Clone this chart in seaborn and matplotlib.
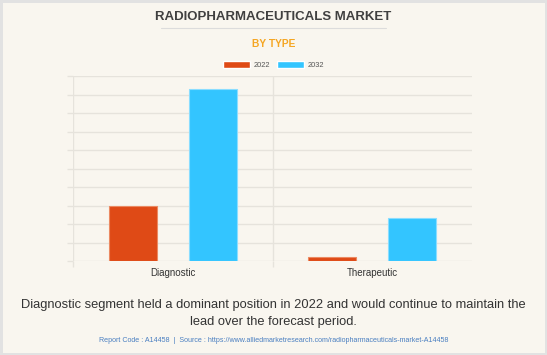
"""Radiopharmaceuticals market by type: grouped bar chart."""

import matplotlib
matplotlib.use("Agg")
import matplotlib.pyplot as plt
from matplotlib.lines import Line2D
import pandas as pd
import seaborn as sns

segments = ["Diagnostic", "Therapeutic"]
years = ["2022", "2032"]
values_2022 = [2.96, 0.24]
values_2032 = [9.32, 2.32]

title = "RADIOPHARMACEUTICALS MARKET"
subtitle = "BY TYPE"
summary = ("Diagnostic segment held a dominant position in 2022 and would continue to maintain the\n"
           "lead over the forecast period.")
source = ("Report Code : A14458  |  Source : "
          "https://www.alliedmarketresearch.com/radiopharmaceuticals-market-A14458")

bg = "#F9F6EF"
grid_color = "#E6E3DC"
palette = ["#DF4A16", "#33C5FF"]
edge_colors = ["#EB8A62", "#8ADDFF"]


def main() -> None:
    df = pd.DataFrame({
        "segment": segments * 2,
        "year": [years[0]] * 2 + [years[1]] * 2,
        "value": values_2022 + values_2032,
    })

    sns.set_theme(style="white")
    plt.rcParams["font.family"] = ["Liberation Sans", "DejaVu Sans"]

    W, H = 547, 355
    fig = plt.figure(figsize=(W / 100, H / 100), dpi=100, facecolor=bg,
                     edgecolor="#E2E2E2", linewidth=2.5)
    ax = fig.add_axes([73 / W, 94 / H, 399 / W, 185 / H])
    ax.set_facecolor(bg)

    sns.barplot(data=df, x="segment", y="value", hue="year", palette=palette,
                saturation=1, width=0.8, gap=0.4, ax=ax, legend=False,
                errorbar=None)

    # lighter outline on each bar
    for i, cont in enumerate(ax.containers):
        for bar in cont:
            bar.set_edgecolor(edge_colors[i])
            bar.set_linewidth(0.8)

    ax.set_xlim(-0.5, 1.5)
    ax.set_ylim(0, 10)
    ax.set_yticks(range(0, 11))
    ax.set_yticklabels([])
    ax.set_xticks([-0.5, 0.5], minor=True)
    ax.grid(True, axis="y", color=grid_color, linewidth=1)
    ax.grid(True, axis="x", which="minor", color=grid_color, linewidth=1)
    ax.set_axisbelow(True)
    ax.tick_params(axis="y", left=True, length=4.3, width=1, color=grid_color)
    ax.tick_params(axis="x", which="minor", bottom=True, length=4.3, width=1,
                   color=grid_color)
    ax.tick_params(axis="x", which="major", bottom=False, labelsize=7,
                   labelcolor="#333333", pad=-1)
    ax.set_xlabel("")
    ax.set_ylabel("")
    for side in ["top", "right", "left", "bottom"]:
        ax.spines[side].set_visible(False)

    # headings
    fig.text(0.5, 1 - 17 / H, title, ha="center", va="center", fontsize=9.5,
             fontweight="bold", color="#404040")
    fig.add_artist(Line2D([161 / W, 386 / W], [1 - 28 / H, 1 - 28 / H],
                          color="#DCDCDC", linewidth=0.8))
    fig.text(0.5, 1 - 44 / H, subtitle, ha="center", va="center", fontsize=7.4,
             fontweight="bold", color="#F5A623")

    # legend
    handles = [plt.Rectangle((0, 0), 1, 1, facecolor=c) for c in palette]
    fig.legend(handles, years, loc="center", bbox_to_anchor=(0.5, 1 - 65 / H),
               ncol=2, frameon=False, fontsize=5.4, handlelength=3.6,
               handleheight=1.0, handletextpad=0.4, columnspacing=1.0,
               labelcolor="#555555")

    # footer
    fig.text(0.5, 1 - 313.5 / H, summary, ha="center", va="center", fontsize=9.3,
             color="#333333", linespacing=1.45)
    fig.text(0.5, 1 - 341 / H, source, ha="center", va="center", fontsize=5.1,
             color="#4A7FC1")

    fig.savefig("out.png", dpi=100, facecolor=bg)
    plt.close(fig)


if __name__ == "__main__":
    main()
